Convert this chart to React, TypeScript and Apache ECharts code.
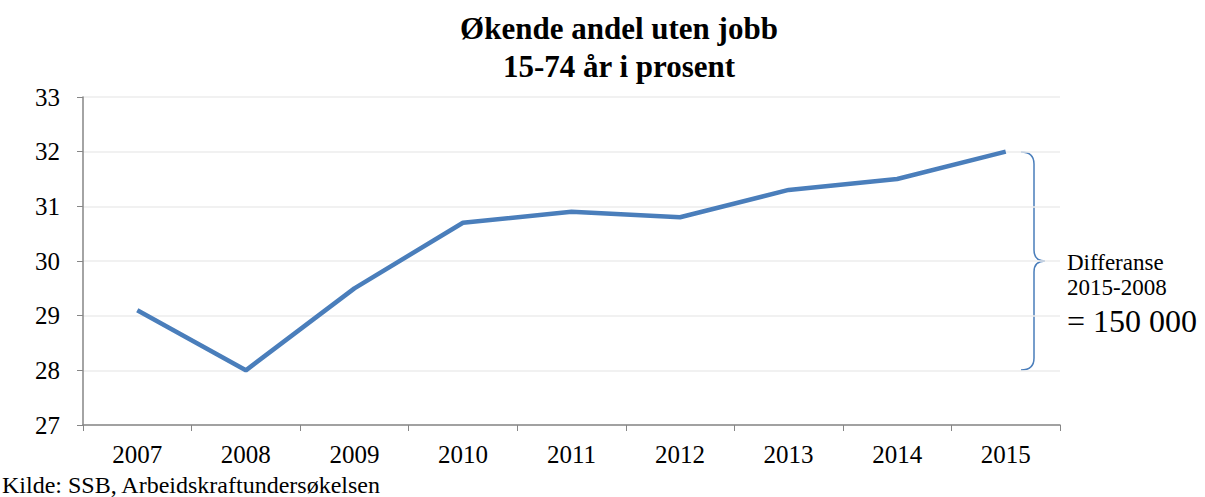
import React, { useEffect, useRef } from "react";
import * as echarts from "echarts";

const years = ["2007", "2008", "2009", "2010", "2011", "2012", "2013", "2014", "2015"];
const values = [29.1, 28.0, 29.5, 30.7, 30.9, 30.8, 31.3, 31.5, 32.0];
const titleLines = ["Økende andel uten jobb", "15-74 år i prosent"];
const source = "Kilde: SSB, Arbeidskraftundersøkelsen";
const noteLines = ["Differanse", "2015-2008", "= 150 000"];

const FONT = "Liberation Serif";

export default function App() {
  const ref = useRef<HTMLDivElement>(null);
  useEffect(() => {
    if (!ref.current) return;
    const d =
      "M0,0 C8,0 13,3 13,12 L13,98 C13,106 17,109 24,109 C17,109 13,112 13,120 L13,206 C13,215 8,218 0,218";
    echarts.graphic.registerShape("brace", echarts.graphic.extendPath(d, {}) as any);
    const chart = echarts.init(ref.current, null, { renderer: "svg" });
    const txt = (x: number, y: number, text: string, size: number) => ({
      type: "text",
      x,
      y,
      style: {
        text,
        fontFamily: FONT,
        fontSize: size,
        fill: "#000",
        verticalAlign: "middle",
        align: "left",
      },
    });
    chart.setOption({
      animation: false,
      backgroundColor: "#ffffff",
      title: {
        text: titleLines.join("\n"),
        left: 614,
        top: 4,
        textAlign: "center",
        textStyle: { fontFamily: FONT, fontSize: 31, fontWeight: "bold", color: "#000", lineHeight: 38 },
      },
      grid: { left: 83, right: 145, top: 97, bottom: 72 },
      xAxis: {
        type: "category",
        data: years,
        boundaryGap: true,
        axisLine: { lineStyle: { color: "#868686", width: 1.5 } },
        axisTick: { show: true, length: 6, lineStyle: { color: "#868686" } },
        axisLabel: { fontFamily: FONT, fontSize: 25, color: "#000", margin: 17 },
      },
      yAxis: {
        type: "value",
        min: 27,
        max: 33,
        interval: 1,
        axisLine: { show: true, lineStyle: { color: "#868686", width: 1.5 } },
        axisTick: { show: true, length: 6, lineStyle: { color: "#868686" } },
        axisLabel: { fontFamily: FONT, fontSize: 25, color: "#000", margin: 23 },
        splitLine: { lineStyle: { color: "#ececec", width: 1.5 } },
      },
      series: [
        {
          type: "line",
          data: values,
          showSymbol: false,
          symbol: "none",
          lineStyle: { color: "#4a7ebb", width: 4.5 },
        },
      ],
      graphic: [
        {
          type: "brace",
          x: 1021,
          y: 152,
          style: { fill: "none", stroke: "#4a7ebb", lineWidth: 1.5 },
        },
        txt(1067, 262, noteLines[0], 23),
        txt(1067, 287, noteLines[1], 23),
        txt(1067, 321, noteLines[2], 32),
        txt(2, 485, source, 24),
      ],
    });
    return () => chart.dispose();
  }, []);
  return (
    <div
      ref={ref}
      style={{ position: "fixed", left: 0, top: 0, width: 1205, height: 497, background: "#fff" }}
    />
  );
}
